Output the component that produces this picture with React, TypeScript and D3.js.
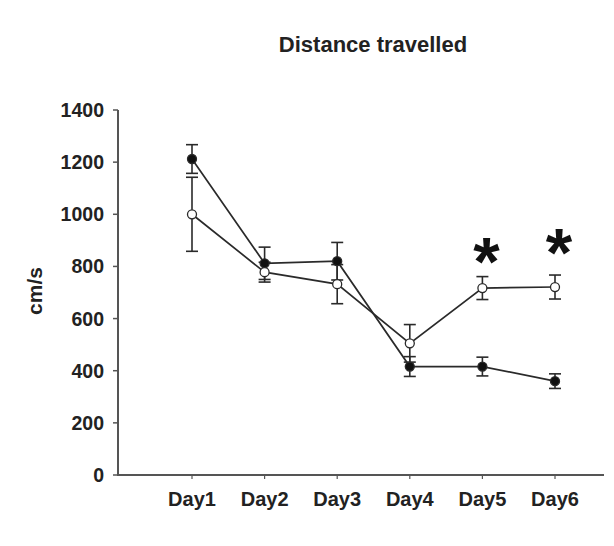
import React from "react";
import * as d3 from "d3";

const days = ["Day1", "Day2", "Day3", "Day4", "Day5", "Day6"];
const filledMean = [1212, 812, 820, 416, 416, 360];
const filledErr = [55, 62, 72, 38, 36, 28];
const openMean = [1000, 778, 732, 505, 717, 721];
const openErr = [142, 38, 75, 72, 44, 46];
const yTicks = [0, 200, 400, 600, 800, 1000, 1200, 1400];
const starDays = ["Day5", "Day6"];
const starValues = [880, 915];

const W = 614;
const H = 546;
const font = "'Liberation Sans', Arial, sans-serif";

export default function App() {
  const y = d3.scaleLinear().domain([0, 1400]).range([475, 110]);
  const x = d3.scalePoint<string>().domain(days).range([192, 555]);
  const line = d3
    .line<number>()
    .x((_, i) => x(days[i]) as number)
    .y((d) => y(d));
  const cap = 6;
  const stroke = "#2a2a2a";

  const series = [
    { mean: filledMean, err: filledErr, fill: "#111" },
    { mean: openMean, err: openErr, fill: "#fff" },
  ];

  return (
    <svg
      width={W}
      height={H}
      style={{ position: "absolute", left: 0, top: 0, background: "#fff" }}
      fontFamily={font}
    >
      <text x={373} y={52} textAnchor="middle" fontSize={22} fontWeight="bold" fill="#222">
        Distance travelled
      </text>
      {/* Y axis */}
      <line x1={118} x2={118} y1={110} y2={476} stroke="#555" strokeWidth={2} />
      {yTicks.map((t) => (
        <g key={t}>
          <line x1={113} x2={118} y1={y(t)} y2={y(t)} stroke="#555" strokeWidth={1.5} />
          <text
            x={104}
            y={y(t)}
            dy="0.36em"
            textAnchor="end"
            fontSize={19.5}
            fontWeight="bold"
            fill="#222"
          >
            {t}
          </text>
        </g>
      ))}
      <text
        transform={`translate(42,${291}) rotate(-90)`}
        textAnchor="middle"
        fontSize={21}
        fontWeight="bold"
        fill="#222"
      >
        cm/s
      </text>
      {/* X axis */}
      <line x1={117} x2={604} y1={475} y2={475} stroke="#555" strokeWidth={2} />
      {days.map((d) => (
        <g key={d}>
          <line x1={x(d)} x2={x(d)} y1={475} y2={479} stroke="#555" strokeWidth={1.2} />
          <text
            x={x(d)}
            y={506}
            textAnchor="middle"
            fontSize={20}
            fontWeight="bold"
            fill="#222"
          >
            {d}
          </text>
        </g>
      ))}
      {/* lines */}
      {series.map((s, si) => (
        <path key={"l" + si} d={line(s.mean) || ""} fill="none" stroke={stroke} strokeWidth={1.7} />
      ))}
      {/* error bars */}
      {series.map((s, si) =>
        s.mean.map((m, i) => {
          const cx = x(days[i]) as number;
          const top = y(m + s.err[i]);
          const bot = y(m - s.err[i]);
          return (
            <g key={"e" + si + i} stroke={stroke} strokeWidth={1.6}>
              <line x1={cx} x2={cx} y1={top} y2={bot} />
              <line x1={cx - cap} x2={cx + cap} y1={top} y2={top} />
              <line x1={cx - cap} x2={cx + cap} y1={bot} y2={bot} />
            </g>
          );
        })
      )}
      {/* markers */}
      {series.map((s, si) =>
        s.mean.map((m, i) => (
          <circle
            key={"m" + si + i}
            cx={x(days[i])}
            cy={y(m)}
            r={4.5}
            fill={s.fill}
            stroke={stroke}
            strokeWidth={1.3}
          />
        ))
      )}
      {/* stars */}
      {starDays.map((d, i) => (
        <text
          key={"s" + d}
          x={(x(d) as number) + 4}
          y={y(starValues[i])}
          dy="0.58em"
          textAnchor="middle"
          fontSize={68}
          fontWeight="bold"
          fill="#111"
        >
          *
        </text>
      ))}
    </svg>
  );
}
